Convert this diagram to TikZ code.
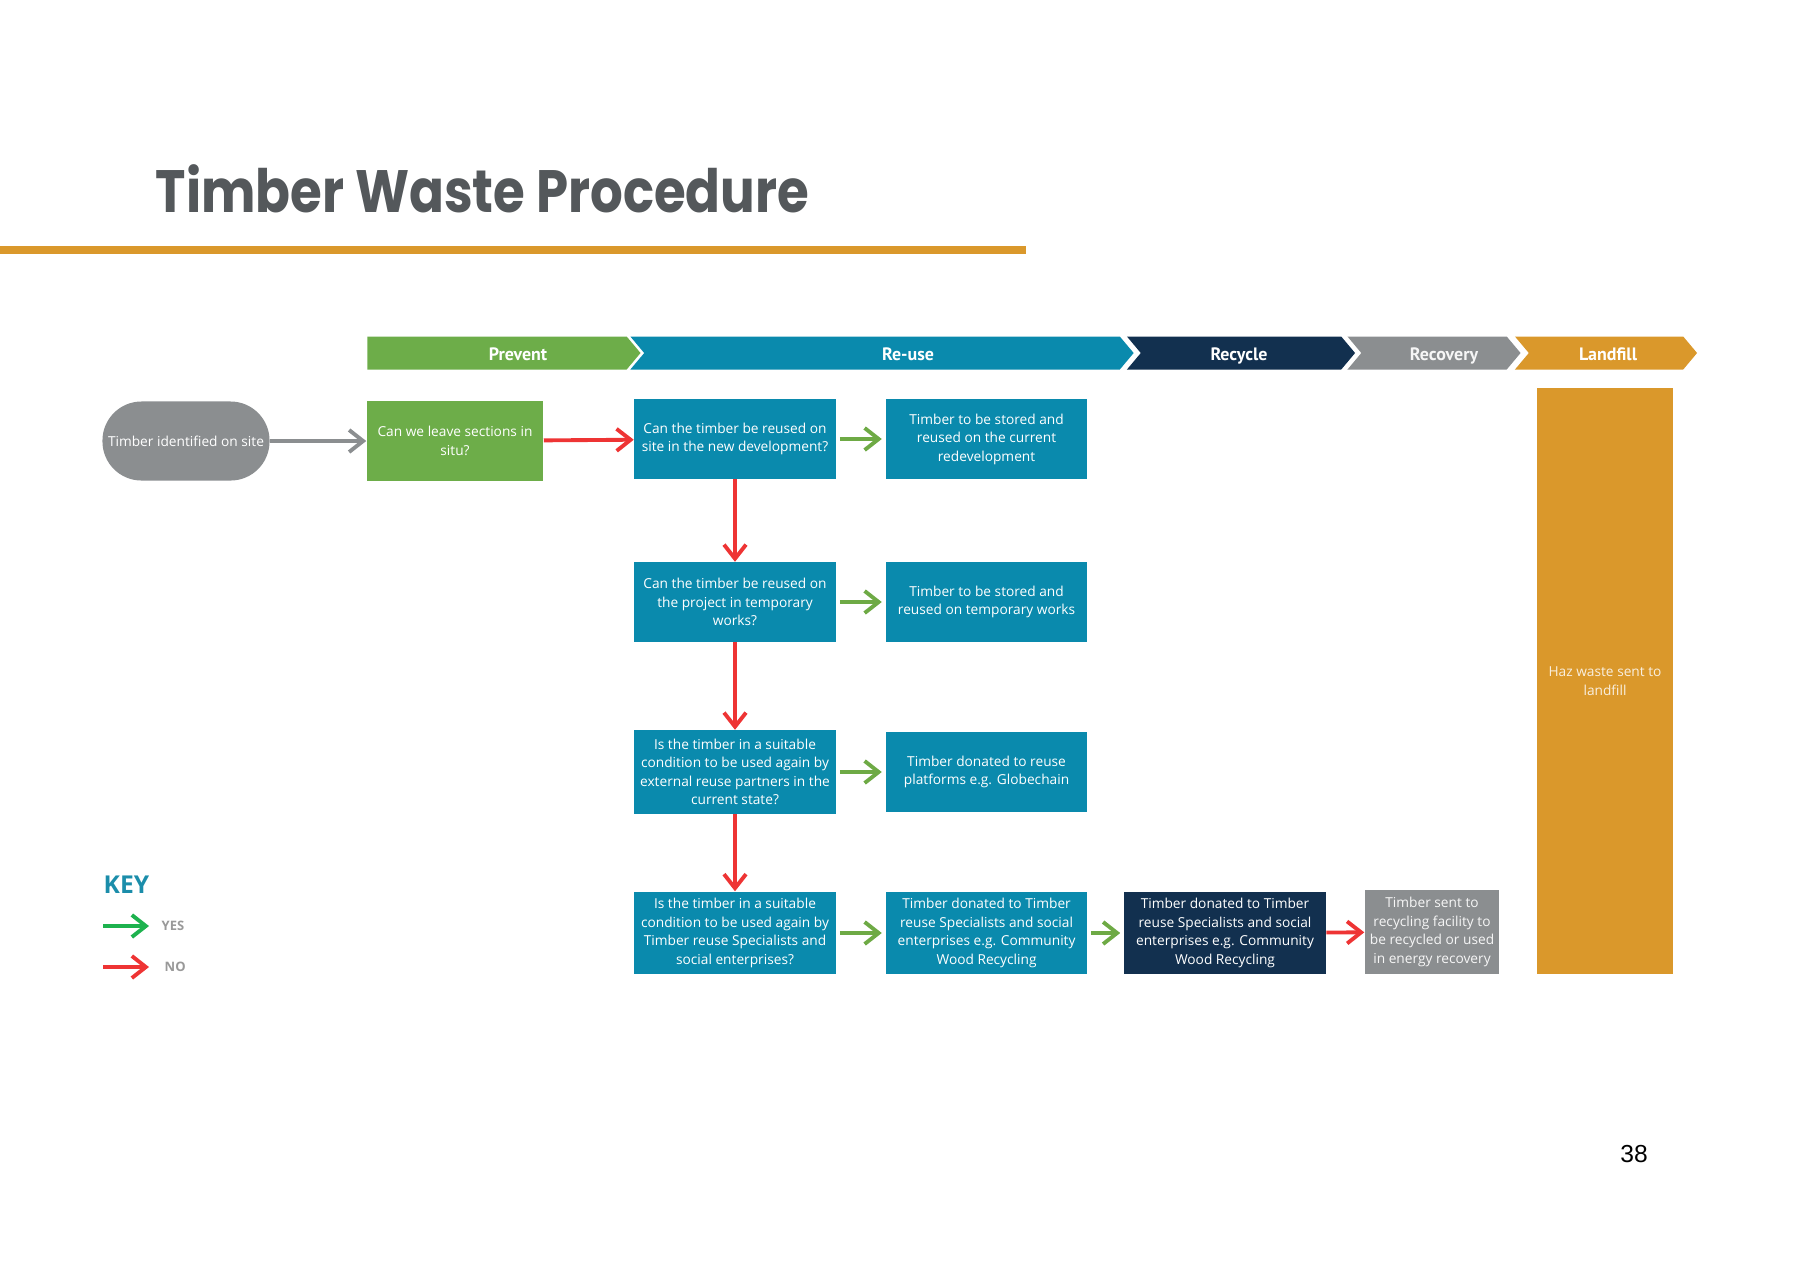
\documentclass[tikz,border=0pt]{standalone}
\usepackage{fontspec}
\setmainfont{Open Sans}
\newfontfamily\titlefont{Poppins}
\newfontfamily\headfont{PT Sans}
\newfontfamily\numfont{Liberation Sans}
\usepackage{tikz}
\usetikzlibrary{shapes.geometric, shapes.symbols, arrows.meta, positioning}

\definecolor{prevgreen}{HTML}{6DAD49}
\definecolor{reuseblue}{HTML}{0A8AAD}
\definecolor{recnavy}{HTML}{12304F}
\definecolor{recgray}{HTML}{8B8E90}
\definecolor{landorange}{HTML}{DA982B}
\definecolor{titlegray}{HTML}{54585B}
\definecolor{yesgreen}{HTML}{6EAA45}
\definecolor{nored}{HTML}{EE3434}
\definecolor{keygreen}{HTML}{1DB24E}
\definecolor{keyblue}{HTML}{1B8DAA}

\tikzstyle{arrow} = [line width=1.1pt, -{Straight Barb[length=1.4mm,width=2.2mm]}]

\begin{document}
\begin{tikzpicture}[
    x=0.01cm, y=-0.01cm,
    stage/.style={signal, signal to=east, signal from=west, signal pointer angle=100, minimum height=0.33cm, inner sep=0pt},
    stagelabel/.style={anchor=base, inner sep=0pt, text=white, font=\headfont\bfseries\fontsize{5.1}{6}\selectfont},
    box/.style={rectangle, minimum width=2.01cm, minimum height=0.79cm, align=center, inner sep=0pt, text=white, fill=reuseblue, font=\fontsize{3.9}{5.25}\selectfont},
    yes/.style={arrow, yesgreen, shorten <=1pt, shorten >=1pt},
    no/.style={arrow, nored}
]
    \useasboundingbox (0,0) rectangle (1800,1272);

    % title and rule
    \node[anchor=base west, inner sep=0pt, text=titlegray, font=\titlefont\bfseries\fontsize{17}{20}\selectfont] (title) at (155,212) {\scalebox{0.86}[1]{Timber Waste Procedure}};
    \fill[landorange] (0,246) rectangle (1026,254);

    % stages along the top
    \node[stage, signal from=nowhere, fill=prevgreen, minimum width=2.73cm] (prevent) at (497,353) {};
    \node[stage, fill=reuseblue, minimum width=5.03cm] (reuse) at (882,353) {};
    \node[stage, fill=recnavy, minimum width=2.28cm] (recycle) at (1241,353) {};
    \node[stage, fill=recgray, minimum width=1.73cm] (recovery) at (1434,353) {};
    \node[stage, fill=landorange, minimum width=1.82cm] (landfill) at (1606,353) {};
    \node[stagelabel] (preventlabel) at (518,360) {Prevent};
    \node[stagelabel] (reuselabel) at (908,360) {Re-use};
    \node[stagelabel] (recyclelabel) at (1239,360) {Recycle};
    \node[stagelabel, text=white!92!recgray] (recoverylabel) at (1444,360) {Recovery};
    \node[stagelabel] (landfilllabel) at (1608,360) {Landfill};

    % flow
    \node[box, fill=recgray, rounded corners=3.9mm, minimum width=1.67cm] (start) at (186,441) {Timber identified on site};
    \node[box, fill=prevgreen, minimum width=1.76cm] (leave) at (455,441) {Can we leave sections in\\situ?};
    \node[box] (q1) at (735,439) {Can the timber be reused on\\site in the new development?};
    \node[box, right=0.49cm of q1] (a1) {Timber to be stored and\\reused on the current\\redevelopment};
    \node[box] (q2) at (735,602) {Can the timber be reused on\\the project in temporary\\works?};
    \node[box, right=0.49cm of q2] (a2) {Timber to be stored and\\reused on temporary works};
    \node[box, minimum height=0.83cm] (q3) at (735,772) {Is the timber in a suitable\\condition to be used again by\\external reuse partners in the\\current state?};
    \node[box, right=0.49cm of q3] (a3) {Timber donated to reuse\\platforms e.g. Globechain};
    \node[box, minimum height=0.82cm] (q4) at (735,933) {Is the timber in a suitable\\condition to be used again by\\Timber reuse Specialists and\\social enterprises?};
    \node[box, minimum height=0.82cm, right=0.49cm of q4] (a4) {Timber donated to Timber\\reuse Specialists and social\\enterprises e.g. Community\\Wood Recycling};
    \node[box, minimum height=0.82cm, fill=recnavy] (recbox) at (1225,933) {Timber donated to Timber\\reuse Specialists and social\\enterprises e.g. Community\\Wood Recycling};
    \node[box, fill=recgray, text=white!92!recgray, minimum width=1.34cm, minimum height=0.84cm] (recobox) at (1432,932) {Timber sent to\\recycling facility to\\be recycled or used\\in energy recovery};
    \node[box, fill=landorange, text=white!85!landorange, minimum width=1.36cm, minimum height=5.86cm] (haz) at (1605,681) {Haz waste sent to\\landfill};

    \draw[arrow, recgray] (start) -- (leave);
    \draw[no] (leave) -- (q1);
    \draw[yes] (q1) -- (a1);
    \draw[no] (q1) -- (q2);
    \draw[yes] (q2) -- (a2);
    \draw[no] (q2) -- (q3);
    \draw[yes] (q3) -- (a3);
    \draw[no] (q3) -- (q4);
    \draw[yes] (q4) -- (a4);
    \draw[yes] (a4) -- (recbox);
    \draw[no] (recbox) -- (recobox);

    % key
    \node[anchor=base west, inner sep=0pt, text=keyblue, font=\bfseries\fontsize{7}{8}\selectfont] (key) at (103,893) {KEY};
    \coordinate (yesfrom) at (103,926);
    \coordinate (yesto) at (149,926);
    \coordinate (nofrom) at (103,967);
    \coordinate (noto) at (149,967);
    \draw[arrow, keygreen] (yesfrom) -- (yesto);
    \draw[arrow, nored] (nofrom) -- (noto);
    \node[anchor=west, inner sep=0pt, text=gray!80, font=\bfseries\fontsize{3.7}{4}\selectfont] (yeslabel) at (161,926) {YES};
    \node[anchor=west, inner sep=0pt, text=gray!80, font=\bfseries\fontsize{3.7}{4}\selectfont] (nolabel) at (164,967) {NO};

    \node[inner sep=0pt, font=\numfont\fontsize{7}{8}\selectfont] (page) at (1634,1154) {38};
\end{tikzpicture}
\end{document}
